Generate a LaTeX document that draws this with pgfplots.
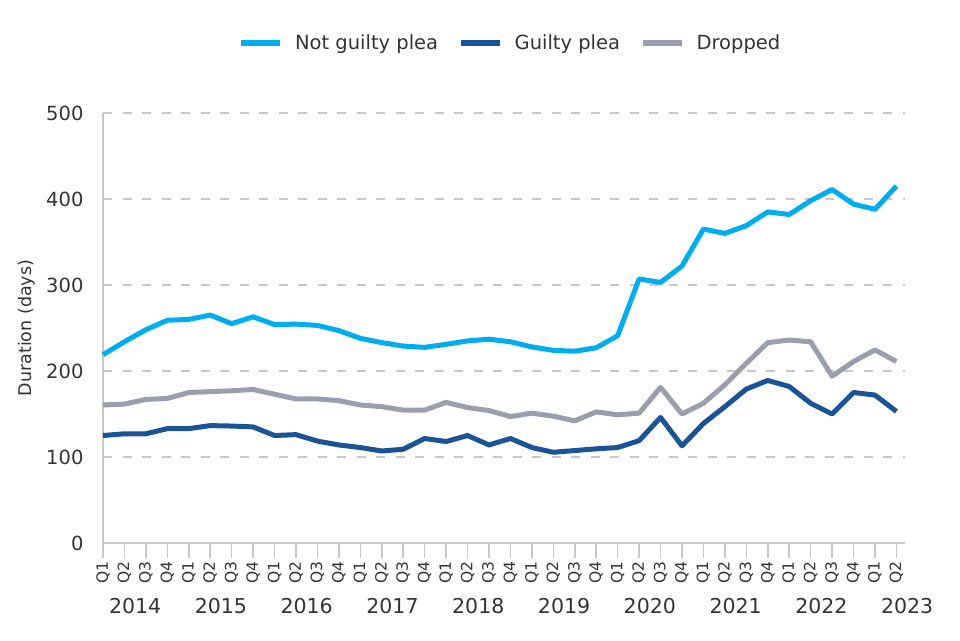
\documentclass[border=0pt]{standalone}
\usepackage{fontspec}
\setmainfont{DejaVu Sans}
\usepackage{pgfplots}
\pgfplotsset{compat=1.18}
\definecolor{ngp}{HTML}{00AEEF}
\definecolor{gp}{HTML}{1B5496}
\definecolor{drp}{HTML}{9A9EAE}
\definecolor{gridc}{HTML}{C8C8C8}
\definecolor{txt}{HTML}{333333}
\begin{document}
\begin{tikzpicture}
\useasboundingbox (0,0) rectangle (960pt,640pt);
\begin{axis}[
  at={(103pt,97pt)}, anchor=south west,
  scale only axis, width=802pt, height=430pt,
  xmin=0, xmax=37.4, ymin=0, ymax=500,
  clip=false,
  axis x line*=bottom, axis y line*=left,
  axis line style={draw=gridc, line width=1.5pt},
  /pgf/number format/assume math mode=true,
  xtick={0,...,37},
  xticklabels={Q1,Q2,Q3,Q4,Q1,Q2,Q3,Q4,Q1,Q2,Q3,Q4,Q1,Q2,Q3,Q4,Q1,Q2,Q3,Q4,Q1,Q2,Q3,Q4,Q1,Q2,Q3,Q4,Q1,Q2,Q3,Q4,Q1,Q2,Q3,Q4,Q1,Q2},
  x tick label style={rotate=90, anchor=east, font=\fontsize{15.5}{18}\selectfont, text=txt},
  xticklabel shift=0pt,
  tick align=outside,
  major tick length=15pt,
  xtick style={draw=gridc, line width=1.5pt},
  ytick={0,100,200,300,400,500},
  ytick style={draw=none},
  y tick label style={font=\fontsize{19.5}{22}\selectfont, text=txt},
  yticklabel shift=1pt,
  ymajorgrids,
  grid style={dash pattern=on 9pt off 10.5pt, draw=gridc, line width=1.8pt},
  ylabel={Duration (days)},
  every axis y label/.style={at={(axis description cs:-0.0948,0.5)}, rotate=90, anchor=center, font=\fontsize{17.5}{20}\selectfont, text=txt},
  legend columns=3,
  legend style={at={(axis description cs:0.508,1.163)}, anchor=center, draw=none, fill=none,
    font=\fontsize{19.5}{23}\selectfont, text=txt,
    /tikz/every odd column/.append style={column sep=10pt},
    /tikz/every even column/.append style={column sep=18pt}},
  legend image code/.code={\draw[#1, line width=5.5pt] (0pt,0pt) -- (39pt,0pt);},
  every axis plot/.append style={line width=5pt, line join=round},
]
\addplot[ngp] coordinates {
(0,219)(1,234)(2,248)(3,259)(4,260)(5,265)(6,255)(7,263)(8,254)(9,254.5)
(10,253)(11,247)(12,238)(13,233)(14,229)(15,227.5)(16,231)(17,235)(18,237)(19,234)
(20,228)(21,224)(22,223)(23,227)(24,241)(25,307)(26,303)(27,322)(28,365)(29,360)
(30,369)(31,385)(32,382)(33,398)(34,411)(35,394)(36,388)(37,415)};
\addlegendentry{Not guilty plea}
\addplot[gp] coordinates {
(0,125)(1,127)(2,127)(3,133)(4,133)(5,136.5)(6,136)(7,135)(8,125)(9,126)
(10,118.5)(11,114)(12,111)(13,107)(14,109)(15,121.5)(16,118)(17,125)(18,114)(19,121.5)
(20,111)(21,105.5)(22,107.5)(23,109.5)(24,111)(25,119)(26,146)(27,113)(28,139)(29,158.5)
(30,179)(31,189)(32,182)(33,162.5)(34,150)(35,175)(36,172)(37,153)};
\addlegendentry{Guilty plea}
\addplot[drp] coordinates {
(0,160.5)(1,161.5)(2,167)(3,168)(4,175)(5,176)(6,177)(7,178.5)(8,173)(9,167.5)
(10,167.5)(11,165.5)(12,160.5)(13,158.5)(14,154.5)(15,154.5)(16,163.5)(17,157.5)(18,154)(19,147)
(20,151)(21,147.5)(22,142)(23,152.5)(24,149)(25,151)(26,181)(27,150)(28,162.5)(29,184)
(30,209)(31,233)(32,236)(33,234)(34,194)(35,211)(36,224.5)(37,211)};
\addlegendentry{Dropped}
\tikzset{yr/.style={font=\fontsize{20.5}{24}\selectfont, text=txt, anchor=center, yshift=-63pt}}
\node[yr] at (axis cs:1.5,0) {2014};
\node[yr] at (axis cs:5.5,0) {2015};
\node[yr] at (axis cs:9.5,0) {2016};
\node[yr] at (axis cs:13.5,0) {2017};
\node[yr] at (axis cs:17.5,0) {2018};
\node[yr] at (axis cs:21.5,0) {2019};
\node[yr] at (axis cs:25.5,0) {2020};
\node[yr] at (axis cs:29.5,0) {2021};
\node[yr] at (axis cs:33.5,0) {2022};
\node[yr] at (axis cs:37.5,0) {2023};
\end{axis}
\end{tikzpicture}
\end{document}
